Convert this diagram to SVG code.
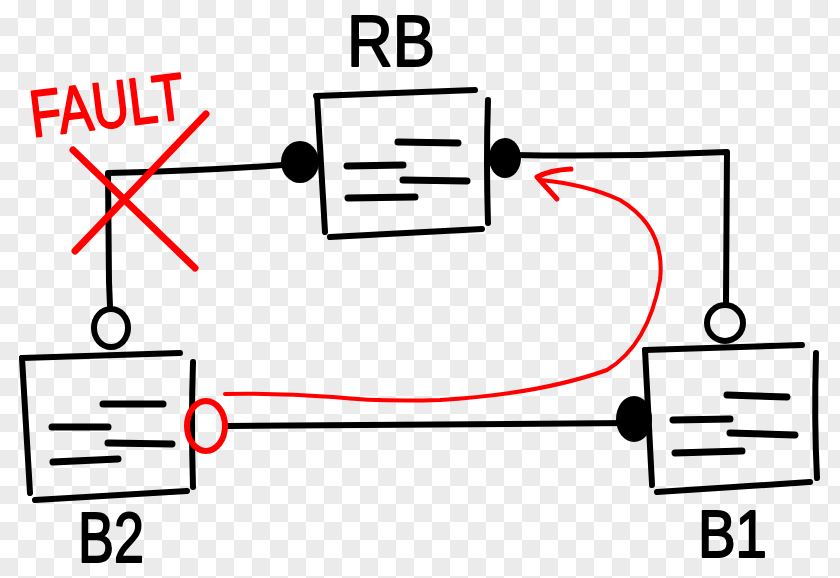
<svg xmlns="http://www.w3.org/2000/svg" width="840" height="578" viewBox="0 0 840 578">
<defs>
<pattern id="checker" width="36" height="36" patternUnits="userSpaceOnUse">
<rect width="36" height="36" fill="#ffffff"/>
<rect x="18" y="0" width="18" height="18" fill="#ebebeb"/>
<rect x="0" y="18" width="18" height="18" fill="#ebebeb"/>
</pattern>
<style>
.ink{fill:none;stroke:#000;stroke-width:6;stroke-linecap:round;stroke-linejoin:round}
.dash{fill:none;stroke:#000;stroke-width:7;stroke-linecap:round}
.dot{fill:#000}
.ring{fill:none;stroke:#000;stroke-width:6}
.red{fill:none;stroke:#ff0000;stroke-linecap:round;stroke-linejoin:round}
.lbl{font-family:"Liberation Sans",Arial,sans-serif;font-weight:normal;fill:#000;stroke:#000;stroke-width:2;stroke-linejoin:round}
</style>
</defs>
<rect width="840" height="578" fill="url(#checker)"/>

<g id="connectors">
<path class="ink" d="M283,165 Q200,171 108,173 L109,282 L110,306"/>
<path class="ink" d="M513,155 Q620,157 727,152 L726,302"/>
<path class="ink" d="M228,426 L630,423" stroke-width="8"/>
</g>

<g id="RB">
<path class="ink" d="M316,96 L475,90"/>
<path class="ink" d="M317,96 L325,232"/>
<path class="ink" d="M330,237 L482,229" stroke-width="7"/>
<path class="ink" d="M488,100 Q486,160 488,223"/>
<path class="dash" d="M398,142 L458,143"/>
<path class="dash" d="M347,166 L403,165"/>
<path class="dash" d="M403,180 L467,181"/>
<path class="dash" d="M348,198 L415,197"/>
<ellipse class="dot" cx="300" cy="162" rx="19" ry="21"/>
<ellipse class="dot" cx="505" cy="158" rx="16" ry="20"/>
<text class="lbl" x="347" y="66" font-size="72" textLength="88" lengthAdjust="spacingAndGlyphs">RB</text>
</g>

<g id="B2">
<path class="ink" d="M22,358 L180,353"/>
<path class="ink" d="M22,358 L30,493"/>
<path class="ink" d="M35,500 L187,491" stroke-width="7"/>
<path class="ink" d="M193,362 Q191,420 193,487"/>
<path class="dash" d="M103,404 L163,404"/>
<path class="dash" d="M52,427 L108,427"/>
<path class="dash" d="M108,443 L172,444"/>
<path class="dash" d="M53,462 L118,459"/>
<ellipse class="ring" cx="111" cy="328" rx="17" ry="19"/>
<text class="lbl" x="78" y="562" font-size="70" textLength="66" lengthAdjust="spacingAndGlyphs">B2</text>
</g>

<g id="B1">
<path class="ink" d="M645,350 L802,345"/>
<path class="ink" d="M645,350 L652,485"/>
<path class="ink" d="M657,492 L810,482" stroke-width="7"/>
<path class="ink" d="M816,353 Q814,420 817,478"/>
<path class="dash" d="M727,395 L787,397"/>
<path class="dash" d="M673,420 L730,419"/>
<path class="dash" d="M730,433 L795,435"/>
<path class="dash" d="M675,453 L742,451"/>
<ellipse class="dot" cx="634" cy="419" rx="18" ry="23"/>
<ellipse class="ring" cx="725" cy="323" rx="18" ry="18"/>
<text class="lbl" x="698" y="557" font-size="66" textLength="69" lengthAdjust="spacingAndGlyphs">B1</text>
</g>

<g id="fault">
<path class="red" stroke-width="7" d="M73,150 L195,268"/>
<path class="red" stroke-width="7" d="M206,114 L75,251"/>
<text x="30" y="128" font-family="'Liberation Sans',Arial,sans-serif" font-size="66" fill="#ff0000" stroke="#ff0000" stroke-width="2" stroke-linejoin="round" textLength="155" lengthAdjust="spacingAndGlyphs" transform="rotate(-7 105 110)">FAULT</text>
</g>

<g id="red-path">
<ellipse class="red" stroke-width="6" cx="206" cy="426" rx="19" ry="25"/>
<path class="red" stroke-width="4" d="M225,394 Q280,393 333,397 Q380,402 440,400 Q540,394 607,370 Q648,345 660,280 Q666,228 620,200 Q585,184 540,180"/>
<path class="red" stroke-width="5" d="M571,169 Q550,170 537,177 L557,199"/>
</g>
</svg>
